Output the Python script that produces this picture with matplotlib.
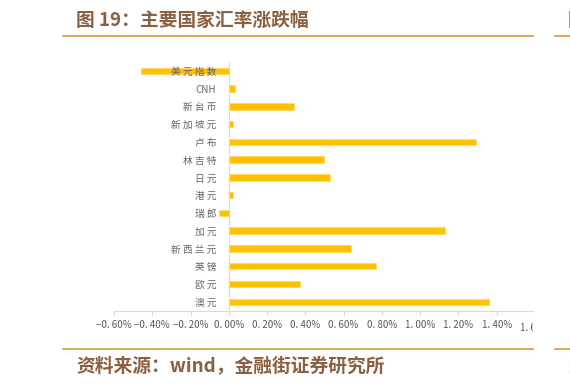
import matplotlib
matplotlib.use("Agg")
import matplotlib.pyplot as plt
from matplotlib.transforms import Bbox, TransformedBbox
from matplotlib.lines import Line2D

plt.rcParams['font.family'] = ['Noto Sans CJK SC', 'DejaVu Sans']

# data (%), top to bottom
categories = ["美元指数", "CNH", "新台币", "新加坡元", "卢布", "林吉特", "日元",
              "港元", "瑞郎", "加元", "新西兰元", "英镑", "欧元", "澳元"]
changes = [-0.46, 0.03, 0.34, 0.02, 1.29, 0.50, 0.53,
           0.02, -0.05, 1.13, 0.64, 0.77, 0.37, 1.36]
xticks = [-0.6, -0.4, -0.2, 0.0, 0.2, 0.4, 0.6, 0.8, 1.0, 1.2, 1.4]

W, H = 570, 387
fig = plt.figure(figsize=(W / 100, H / 100), dpi=100)

def fx(px):
    return px / W

def fy(py):
    return 1 - py / H

ax = fig.add_axes([fx(114), fy(310.6), fx(533) - fx(114), fy(62) - fy(310.6)])

y = list(range(len(categories)))
ax.barh(y, changes, height=0.36, color="#FFC000", edgecolor="#FFD966", linewidth=0.6, zorder=1)
ax.set_ylim(len(categories) - 0.5, -0.5)
ax.set_xlim(-0.6, 1.59)

ax.spines['top'].set_visible(False)
ax.spines['right'].set_visible(False)
ax.spines['left'].set_position(('data', 0))
ax.spines['left'].set_color("#D9D9D9")
ax.spines['bottom'].set_color("#D9D9D9")
ax.spines['left'].set_zorder(0)

labels = [c if c.isascii() else " ".join(c) for c in categories]
ax.set_yticks(y)
ax.set_yticklabels(labels, fontsize=7, color="#666666")
ax.tick_params(axis='y', length=0, pad=9)
for t in ax.get_yticklabels():
    t.set_zorder(5)

ax.set_xticks(xticks)
ax.set_xticklabels([("%.2f%%" % v).replace(".", ". ").replace("-", "−") for v in xticks],
                   fontsize=7, color="#595959")
ax.tick_params(axis='x', length=3, color="#D9D9D9", pad=4)

# partial label cut at the page edge
t = ax.text(1.6, -0.048, "1. 60%", transform=ax.get_xaxis_transform(),
            ha="center", va="top", fontsize=7, color="#595959")
t.set_clip_box(TransformedBbox(Bbox([[0, 0], [fx(533), 1]]), fig.transFigure))
t.set_clip_on(True)

brown = "#8B6040"
gold = "#C8922A"

fig.text(fx(76), fy(20), "图 19：主要国家汇率涨跌幅", fontsize=13.5, fontweight="bold",
         color=brown, va="center", ha="left")
fig.add_artist(Line2D([fx(63), fx(533)], [fy(35.5), fy(35.5)], color=gold, linewidth=1.1))
fig.add_artist(Line2D([fx(555), fx(572)], [fy(35.5), fy(35.5)], color=gold, linewidth=1.1))
fig.text(fx(568), fy(20), "图", fontsize=13.5, fontweight="bold", color=brown, va="center", ha="left")

fig.add_artist(Line2D([fx(63), fx(533)], [fy(348.5), fy(348.5)], color=gold, linewidth=1.1))
fig.add_artist(Line2D([fx(555), fx(572)], [fy(348.5), fy(348.5)], color=gold, linewidth=1.1))
fig.text(fx(76), fy(367), "资料来源：wind，金融街证券研究所", fontsize=13.5, fontweight="bold",
         color=brown, va="center", ha="left")
fig.text(fx(568), fy(367), "资", fontsize=13.5, fontweight="bold", color=brown, va="center", ha="left")

fig.savefig("out.png", dpi=100)
